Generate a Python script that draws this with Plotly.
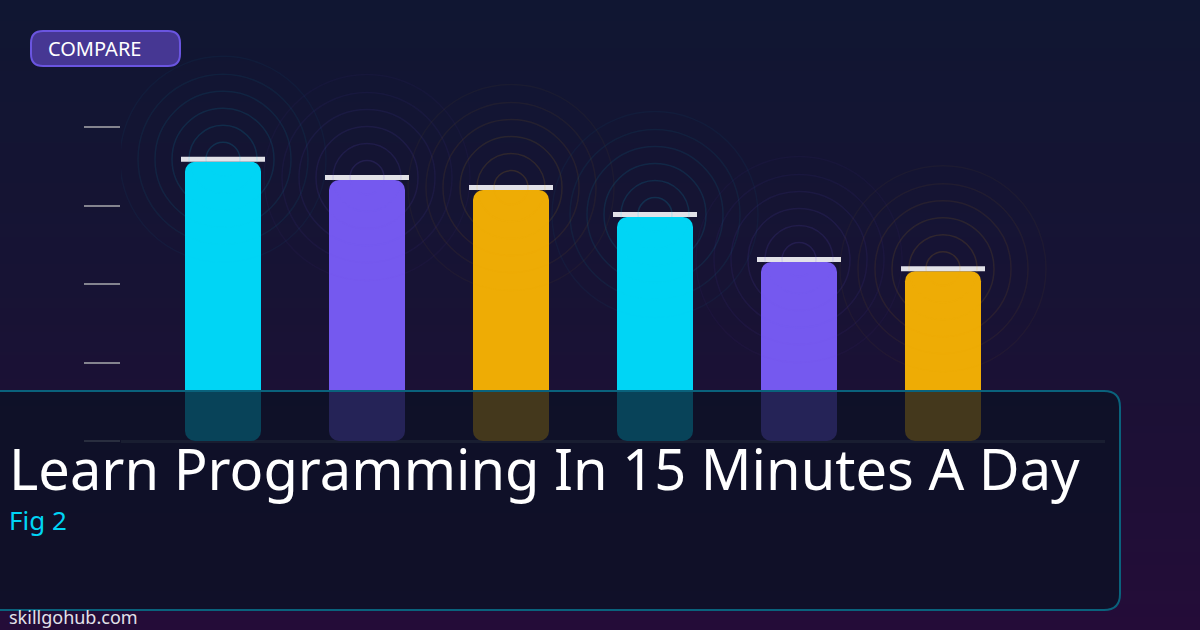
import plotly.graph_objects as go

# valores
positions = [0, 1, 2, 3, 4, 5]
values = [88.9, 83.1, 79.9, 71.3, 57.0, 54.1]
bar_colors = ["#00d5f5", "#7559ef", "#eeac05", "#00d5f5", "#7559ef", "#eeac05"]
ring_rgb = ["0,213,245", "117,89,239", "238,172,5", "0,213,245", "117,89,239", "238,172,5"]
tick_values = [0, 25, 50, 75, 100]
ring_radii = [17, 34, 51, 68, 85, 103]
ring_alpha = [0.14, 0.12, 0.10, 0.08, 0.06, 0.04]

W = 1200
H = 630
PX_PER_UNIT = 3.14  # pixels por unidade do eixo y
BASE_Y = 441
CAP = 5 / PX_PER_UNIT


def px(x):
    return x / W


def py(y):
    return 1 - y / H


def rounded(x0, y0, x1, y1, r):
    return (
        f"M {px(x0 + r)} {py(y0)} L {px(x1 - r)} {py(y0)} Q {px(x1)} {py(y0)} {px(x1)} {py(y0 + r)} "
        f"L {px(x1)} {py(y1 - r)} Q {px(x1)} {py(y1)} {px(x1 - r)} {py(y1)} "
        f"L {px(x0 + r)} {py(y1)} Q {px(x0)} {py(y1)} {px(x0)} {py(y1 - r)} "
        f"L {px(x0)} {py(y0 + r)} Q {px(x0)} {py(y0)} {px(x0 + r)} {py(y0)} Z"
    )


fig = go.Figure()

# fundo em gradiente
fig.add_trace(go.Heatmap(
    z=[[0, 0], [0.45, 0.45], [0.75, 0.75], [1, 1]],
    x=[0, 1],
    y=[1, 0.55, 0.25, 0],
    zsmooth="best",
    showscale=False,
    hoverinfo="skip",
    colorscale=[[0, "rgb(16,22,50)"], [0.45, "rgb(23,19,52)"], [0.75, "rgb(30,15,54)"], [1, "rgb(36,12,56)"]],
    xaxis="x",
    yaxis="y",
))

# barras: com base definida o plotly arredonda as quatro pontas
fig.add_trace(go.Bar(
    x=positions, y=values, base=[0] * len(values), width=76 / 144,
    marker=dict(color=bar_colors, cornerradius=10, line_width=0),
    xaxis="x2", yaxis="y2",
))
# tampa branca no topo
fig.add_trace(go.Bar(
    x=positions, y=[CAP] * len(values), base=values, width=84 / 144,
    marker=dict(color="#e2e2e8", line_width=0),
    xaxis="x2", yaxis="y2",
))

# aneis em volta do topo de cada barra
shapes = []
for pos, val, rgb in zip(positions, values, ring_rgb):
    for r, a in zip(ring_radii, ring_alpha):
        shapes.append(dict(
            type="circle", xref="x2", yref="y2",
            xsizemode="pixel", ysizemode="pixel",
            xanchor=pos, yanchor=val + CAP / 2,
            x0=-r, x1=r, y0=-r, y1=r,
            line=dict(color=f"rgba({rgb},{a})", width=1.5),
            layer="above",
        ))

# painel do titulo
shapes.append(dict(
    type="path", xref="paper", yref="paper",
    path=rounded(-30, 391, 1120, 610, 16),
    fillcolor="rgba(11,17,36,0.75)",
    line=dict(color="#0a627c", width=2),
    layer="above",
))
# etiqueta
shapes.append(dict(
    type="path", xref="paper", yref="paper",
    path=rounded(31, 31, 180, 66, 12),
    fillcolor="#463793",
    line=dict(color="#6a55e0", width=2),
    layer="above",
))

fig.update_layout(
    width=W,
    height=H,
    margin=dict(l=0, r=0, t=0, b=0),
    paper_bgcolor="#11163a",
    plot_bgcolor="rgba(0,0,0,0)",
    barmode="overlay",
    showlegend=False,
    shapes=shapes,
    font=dict(family="Noto Sans"),
    xaxis=dict(domain=[0, 1], range=[0, 1], visible=False),
    yaxis=dict(domain=[0, 1], range=[0, 1], visible=False),
    xaxis2=dict(
        domain=[121 / W, 1105 / W],
        range=[(121 - 223) / 144, (1105 - 223) / 144],
        anchor="y2", showgrid=False, zeroline=False, showticklabels=False, ticks="",
    ),
    yaxis2=dict(
        domain=[0, 1],
        range=[-(H - BASE_Y) / PX_PER_UNIT, BASE_Y / PX_PER_UNIT],
        anchor="x2",
        tickmode="array",
        tickvals=tick_values,
        ticks="outside",
        ticklen=36,
        tickwidth=2,
        tickcolor="#84848f",
        showticklabels=False,
        showgrid=False,
        showline=False,
        zeroline=True,
        zerolinecolor="#44445a",
        zerolinewidth=3,
    ),
)

fig.add_annotation(text="COMPARE", xref="paper", yref="paper", x=px(46), y=py(49), xanchor="left", yanchor="middle",
                   showarrow=False, font=dict(size=20, color="#ffffff"))
fig.add_annotation(text="Learn Programming In 15 Minutes A Day", xref="paper", yref="paper", x=px(7), y=py(468),
                   xanchor="left", yanchor="middle", showarrow=False, font=dict(size=56, color="#ffffff"))
fig.add_annotation(text="Fig 2", xref="paper", yref="paper", x=px(7), y=py(520), xanchor="left", yanchor="middle",
                   showarrow=False, font=dict(size=26, color="#00d5f5"))
fig.add_annotation(text="skillgohub.com", xref="paper", yref="paper", x=px(7), y=py(617), xanchor="left", yanchor="middle",
                   showarrow=False, font=dict(size=18, color="#e2e2ea"))

# tira a margem do body
fig.write_html("out.html", post_script="document.body.style.margin='0';", config={"displayModeBar": False})
